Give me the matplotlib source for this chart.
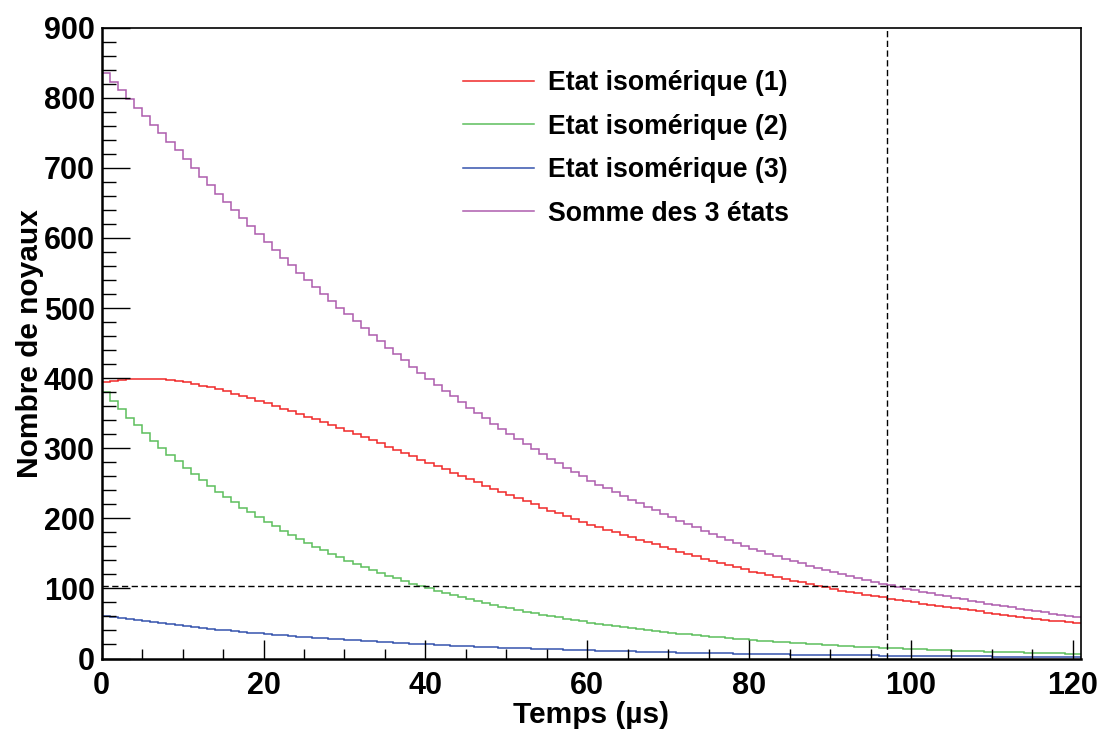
import numpy as np
import matplotlib
matplotlib.use("Agg")
import matplotlib.pyplot as plt

# Bin contents (1 us bins, 0 to 121 us)
etat1 = [394, 396, 397.5, 398.5, 399, 399, 399, 398.5, 397.5, 396, 394,
         391.8, 389.3, 386.8, 384, 381, 377.8, 374.4, 371, 367.5, 364,
         360.3, 356.5, 352.7, 348.9, 345, 341.1, 337.1, 333.1, 329, 325,
         320.5, 316, 311.4, 306.8, 302.2, 297.6, 293, 288.4, 283.7, 279,
         274.4, 269.8, 265.2, 260.6, 256, 251.4, 246.8, 242.2, 237.6, 233,
         228.6, 224.2, 219.8, 215.4, 211, 207, 203, 199, 195, 191,
         187.4, 183.8, 180.2, 176.6, 173, 169.6, 166.2, 162.8, 159.4, 156,
         152.6, 149.2, 145.8, 142.4, 139, 136, 133, 130, 127, 124,
         121.4, 118.8, 116.2, 113.6, 111, 108.6, 106.2, 103.8, 101.4, 99,
         97, 95, 93, 91, 89, 87.2, 85.4, 83.6, 81.8, 80,
         78.4, 76.8, 75.2, 73.6, 72, 70.4, 68.8, 67.2, 65.6, 64,
         62.6, 61.2, 59.8, 58.4, 57, 55.6, 54.2, 52.8, 51.4, 50]

etat2 = [380, 367.5, 355.4, 343.8, 332.5, 321.6, 311.0, 300.8, 290.9, 281.4,
         272.1, 263.2, 254.6, 246.2, 238.1, 230.3, 222.7, 215.4, 208.4, 201.5,
         194.9, 188.5, 182.3, 176.3, 170.5, 164.9, 159.5, 154.3, 149.2, 144.3,
         139.6, 135.0, 130.6, 126.3, 122.1, 118.1, 114.2, 110.5, 106.8, 103.3,
         99.9, 96.6, 93.5, 90.4, 87.4, 84.6, 81.8, 79.1, 76.5, 74.0,
         71.6, 69.2, 66.9, 64.7, 62.6, 60.6, 58.6, 56.7, 54.8, 53.0,
         51.3, 49.6, 47.9, 46.4, 44.8, 43.4, 41.9, 40.6, 39.2, 37.9,
         36.7, 35.5, 34.3, 33.2, 32.1, 31.0, 30.0, 29.0, 28.1, 27.2,
         26.3, 25.4, 24.6, 23.8, 23.0, 22.2, 21.5, 20.8, 20.1, 19.4,
         18.8, 18.2, 17.6, 17.0, 16.4, 15.9, 15.4, 14.9, 14.4, 13.9,
         13.4, 13.0, 12.6, 12.1, 11.7, 11.4, 11.0, 10.6, 10.3, 9.9,
         9.6, 9.3, 9.0, 8.7, 8.4, 8.1, 7.8, 7.6, 7.3, 7.1, 6.9]

etat3 = [61.0, 59.3, 57.7, 56.1, 54.6, 53.1, 51.6, 50.2, 48.8, 47.5,
         46.2, 44.9, 43.7, 42.5, 41.3, 40.2, 39.1, 38.0, 37.0, 36.0,
         35.0, 34.0, 33.1, 32.2, 31.3, 30.5, 29.6, 28.8, 28.0, 27.3,
         26.5, 25.8, 25.1, 24.4, 23.7, 23.1, 22.4, 21.8, 21.2, 20.6,
         20.1, 19.5, 19.0, 18.5, 18.0, 17.5, 17.0, 16.6, 16.1, 15.7,
         15.2, 14.8, 14.4, 14.0, 13.6, 13.3, 12.9, 12.6, 12.2, 11.9,
         11.6, 11.2, 10.9, 10.6, 10.3, 10.1, 9.8, 9.5, 9.3, 9.0,
         8.7, 8.5, 8.3, 8.0, 7.8, 7.6, 7.4, 7.2, 7.0, 6.8,
         6.6, 6.4, 6.3, 6.1, 5.9, 5.7, 5.6, 5.4, 5.3, 5.1,
         5.0, 4.9, 4.7, 4.6, 4.5, 4.3, 4.2, 4.1, 4.0, 3.9,
         3.8, 3.7, 3.6, 3.5, 3.4, 3.3, 3.2, 3.1, 3.0, 2.9,
         2.8, 2.8, 2.7, 2.6, 2.5, 2.5, 2.4, 2.3, 2.3, 2.2, 2.1]

labels = ["Etat isomérique (1)", "Etat isomérique (2)",
          "Etat isomérique (3)", "Somme des 3 états"]
couleurs = ["#f02828", "#5cbf5c", "#3553ad", "#ad5cad"]

seuil = 104      # horizontal dashed line
t_seuil = 97.0   # vertical dashed line

#Build the bin edges and the sum of the three states
edges = np.arange(len(etat1) + 1)
somme = np.array(etat1) + np.array(etat2) + np.array(etat3)
series = [np.array(etat1), np.array(etat2), np.array(etat3), somme]

plt.rcParams['font.family'] = ['Liberation Sans', 'DejaVu Sans']
plt.rcParams['font.weight'] = 'bold'

fig = plt.figure(figsize=(10.98, 7.29), dpi=100)
ax = fig.add_axes([0.0926, 0.0967, 0.8919, 0.8653])

for vals, c, lab in zip(series, couleurs, labels):
    ax.stairs(vals, edges, color=c, lw=1.1, label=lab, baseline=None)

ax.axhline(seuil, color='black', lw=1.0, ls=(0, (4.5, 2.5)))
ax.axvline(t_seuil, color='black', lw=1.0, ls=(0, (4.5, 2.5)))

ax.set_xlim(0, 121)
ax.set_ylim(0, 900)
ax.set_xticks(np.arange(0, 121, 20))
ax.set_xticks(np.arange(0, 121, 5), minor=True)
ax.set_yticks(np.arange(0, 901, 100))
ax.set_yticks(np.arange(0, 901, 20), minor=True)
ax.tick_params(axis='both', which='both', direction='in', labelsize=22, width=1.0)
ax.tick_params(axis='y', which='major', length=20, pad=5)
ax.tick_params(axis='y', which='minor', length=10)
ax.tick_params(axis='x', which='major', length=14, pad=9)
ax.tick_params(axis='x', which='minor', length=7)
for lab in ax.get_xticklabels() + ax.get_yticklabels():
    lab.set_fontweight('bold')
for s in ax.spines.values():
    s.set_linewidth(1.2)
ax.spines['left'].set_linewidth(1.8)
ax.spines['bottom'].set_linewidth(1.8)

ax.set_xlabel("Temps (µs)", fontsize=21.5, fontweight='bold', labelpad=0)
ax.set_ylabel("Nombre de noyaux", fontsize=21.5, fontweight='bold', labelpad=0)

leg = ax.legend(loc='upper left', bbox_to_anchor=(463 / 1098, 1 - 70 / 729),
                bbox_transform=fig.transFigure, frameon=False, fontsize=19.2,
                handlelength=2.65, handletextpad=0.55, labelspacing=0.66,
                borderpad=0, borderaxespad=0)
for t in leg.get_texts():
    t.set_fontweight('bold')

fig.savefig("out.png", dpi=100)
